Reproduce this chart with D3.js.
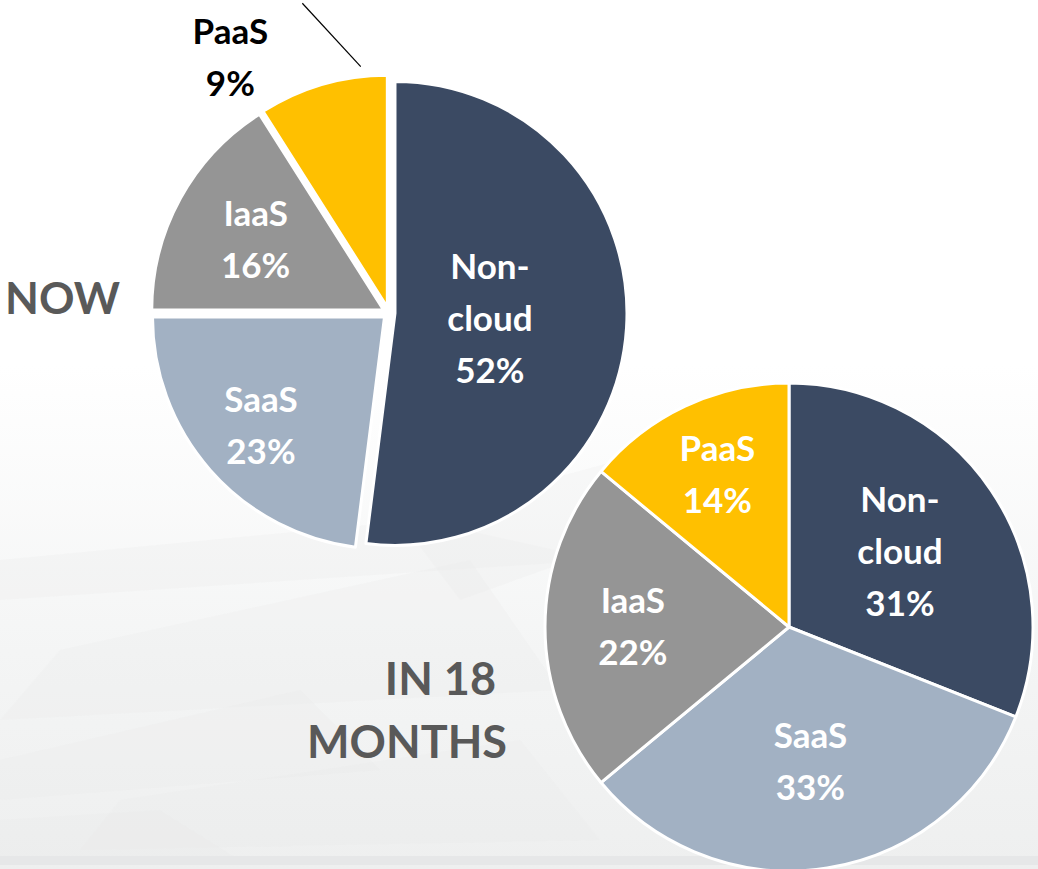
<!DOCTYPE html>
<html>
<head>
<meta charset="utf-8">
<script src="https://cdn.jsdelivr.net/npm/d3@7"></script>
<style>
  html, body { margin: 0; padding: 0; background: #fff; }
  svg { display: block; }
  text { font-family: Lato, "Open Sans", sans-serif; font-weight: bold; }
</style>
</head>
<body>
<div id="chart"></div>
<script>
// categories and shares (%)
const categories = ["Non-cloud", "SaaS", "IaaS", "PaaS"];
const nowValues = [52, 23, 16, 9];
const laterValues = [31, 33, 22, 14];
const labelLines = [["Non-", "cloud"], ["SaaS"], ["IaaS"], ["PaaS"]];

const colors = { "Non-cloud": "#3b4a63", "SaaS": "#a2b1c3", "IaaS": "#959595", "PaaS": "#ffc000" };

const W = 1038, H = 869;

const svg = d3.select("#chart").append("svg")
    .attr("width", W)
    .attr("height", H);

// background: white fading to light grey with faint facets
const defs = svg.append("defs");
const grad = defs.append("linearGradient")
    .attr("id", "bg").attr("x1", 0).attr("y1", 0).attr("x2", 0).attr("y2", 1);
grad.append("stop").attr("offset", "0.42").attr("stop-color", "#ffffff");
grad.append("stop").attr("offset", "0.75").attr("stop-color", "#f4f5f5");
grad.append("stop").attr("offset", "1").attr("stop-color", "#eeefef");
svg.append("rect").attr("width", W).attr("height", H).attr("fill", "url(#bg)");

const facets = [
    [[0, 560], [420, 520], [600, 560], [0, 600]],
    [[60, 650], [470, 560], [560, 690], [0, 720]],
    [[0, 760], [300, 690], [380, 770], [0, 800]],
    [[120, 800], [520, 740], [600, 840], [80, 850]],
    [[400, 520], [840, 400], [880, 450], [460, 600]],
    [[0, 820], [160, 810], [240, 860], [0, 860]]
];
svg.append("g").selectAll("path")
    .data(facets)
    .join("path")
    .attr("d", d => d3.line()(d) + "Z")
    .attr("fill", "#e6e7e8")
    .attr("opacity", 0.22);
svg.append("rect").attr("x", 0).attr("y", 856).attr("width", W).attr("height", 9)
    .attr("fill", "#e6e7e8");

const pie = d3.pie().sort(null).value(d => d.value);

function drawPie(values, opts) {
    const data = categories.map((c, i) => ({ cat: c, value: values[i], lines: labelLines[i] }));
    const arcs = pie(data);
    const arc = d3.arc().innerRadius(0).outerRadius(opts.r);
    const g = svg.append("g").attr("transform", `translate(${opts.cx},${opts.cy})`);

    const slice = g.selectAll("g.slice")
        .data(arcs)
        .join("g")
        .attr("class", "slice")
        .attr("transform", d => {
            const a = (d.startAngle + d.endAngle) / 2;
            const [x, y] = d3.pointRadial(a, opts.explode);
            return `translate(${x},${y})`;
        });

    slice.append("path")
        .attr("d", arc)
        .attr("fill", d => colors[d.data.cat])
        .attr("stroke", "#fff")
        .attr("stroke-width", opts.stroke)
        .attr("stroke-linejoin", "round");

    // labels
    const lineH = 52;
    slice.each(function(d) {
        const sel = d3.select(this);
        const lines = d.data.lines.concat([d.data.value + "%"]);
        const out = opts.outside && opts.outside[d.data.cat];
        let x, y;
        if (out) {
            [x, y] = out.pos;
        } else {
            const a = (d.startAngle + d.endAngle) / 2;
            [x, y] = d3.pointRadial(a, opts.r * opts.labelR[d.data.cat]);
        }
        const t = sel.append("text")
            .attr("text-anchor", "middle")
            .attr("font-size", 35)
            .attr("fill", out ? "#000" : "#fff");
        const y0 = y - (lines.length - 1) * lineH / 2 + 12;
        lines.forEach((l, i) => {
            t.append("tspan").attr("x", x).attr("y", y0 + i * lineH).text(l);
        });
        if (out) {
            const p = d3.pointRadial(d.endAngle - out.angleBack, opts.r + 10);
            sel.append("line")
                .attr("x1", out.lineFrom[0]).attr("y1", out.lineFrom[1])
                .attr("x2", p[0]).attr("y2", p[1])
                .attr("stroke", "#000").attr("stroke-width", 1.2);
        }
    });
}

drawPie(nowValues, {
    cx: 389, cy: 313, r: 232, explode: 6, stroke: 3,
    labelR: { "Non-cloud": 0.41, "SaaS": 0.71, "IaaS": 0.63 },
    outside: { "PaaS": { pos: [-157, -249], lineFrom: [-85, -304], angleBack: 0.11 } }
});

drawPie(laterValues, {
    cx: 789, cy: 627, r: 244, explode: 0, stroke: 3,
    labelR: { "Non-cloud": 0.55, "SaaS": 0.56, "IaaS": 0.64, "PaaS": 0.69 }
});

// period titles
svg.append("text")
    .attr("x", 5).attr("y", 314)
    .attr("font-size", 44)
    .attr("fill", "#595959")
    .text("NOW");

const later = svg.append("text")
    .attr("text-anchor", "end")
    .attr("font-size", 45)
    .attr("fill", "#595959");
later.append("tspan").attr("x", 496).attr("y", 695).text("IN 18");
later.append("tspan").attr("x", 507).attr("y", 758).text("MONTHS");
</script>
</body>
</html>
